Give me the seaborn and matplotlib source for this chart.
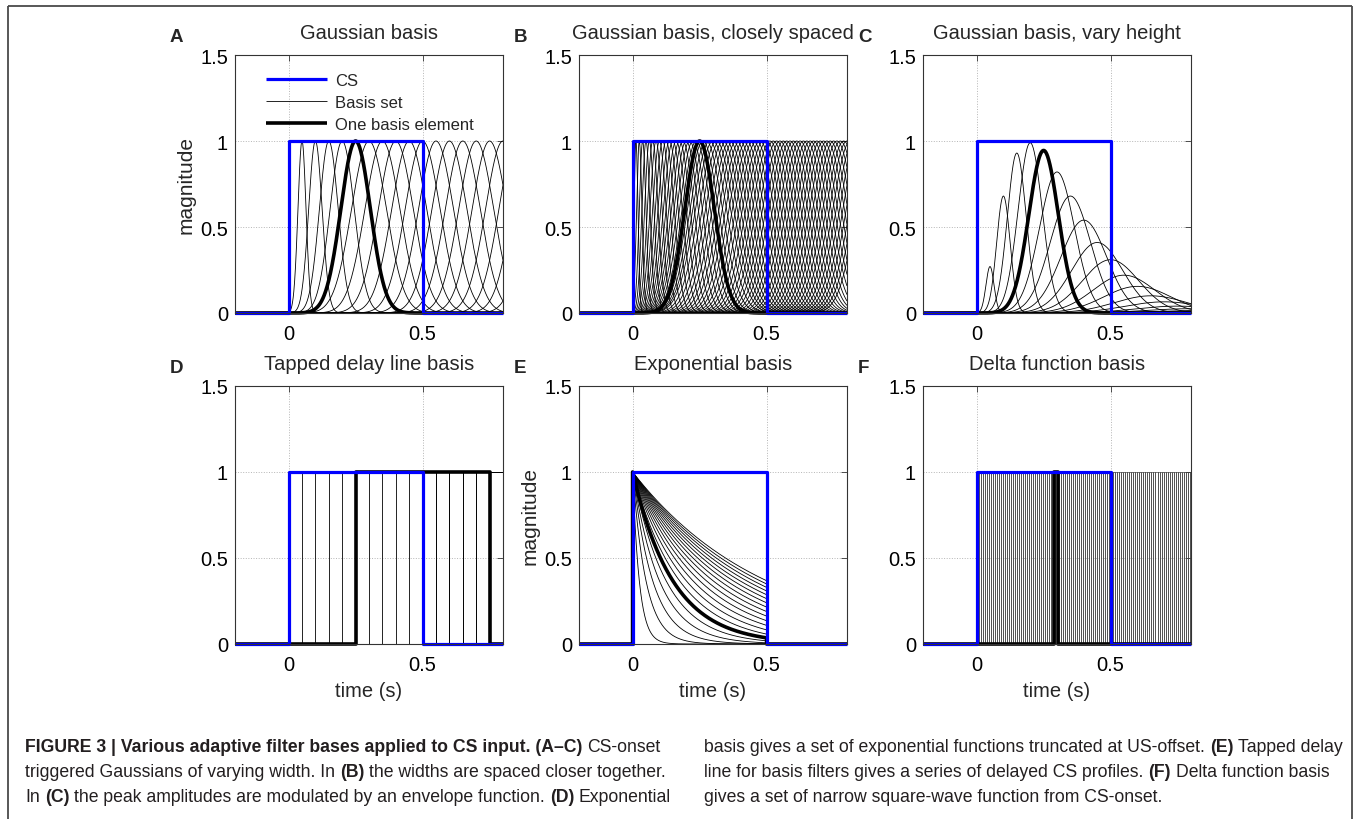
import numpy as np
import pandas as pd
import matplotlib
matplotlib.use("Agg")
import matplotlib.pyplot as plt
from matplotlib.lines import Line2D
from matplotlib import font_manager
import seaborn as sns

W, H = 1354, 820

# ---- time axis and conditioned stimulus -------------------------------
t_min, t_max = -0.2, 0.8
cs_onset, cs_offset = 0.0, 0.5

# ---- Gaussian widths: grow with centre (levelled off in A and B) ------
sigma_base, sigma_slope = 0.005, 0.20
sigma_cap_ab = 0.065

# ---- A: Gaussian basis -----------------------------------------------
gauss_centers = [0.05, 0.10, 0.15, 0.20, 0.25, 0.30, 0.35, 0.40, 0.45, 0.50,
                 0.55, 0.60, 0.65, 0.70, 0.75, 0.80, 0.85, 0.90, 0.95, 1.00]
gauss_highlight = 0.25

# ---- B: closely spaced Gaussians --------------------------------------
close_first, close_step, close_count = 0.0125, 0.0125, 72
close_highlight = 0.25

# ---- C: Gaussians with envelope-modulated heights ---------------------
vary_centers = [0.05, 0.10, 0.15, 0.20, 0.25, 0.30, 0.35, 0.40, 0.45,
                0.50, 0.55, 0.60, 0.65, 0.70, 0.75, 0.80, 0.85, 0.90]
vary_heights = [0.27, 0.68, 0.93, 0.99, 0.945, 0.82, 0.68, 0.54, 0.41,
                0.31, 0.22, 0.155, 0.10, 0.065, 0.04, 0.025, 0.015, 0.01]
vary_highlight = 0.25

# ---- D: tapped delay line (delayed copies of the CS) ------------------
tap_delays = [0.00, 0.05, 0.10, 0.15, 0.20, 0.25, 0.30, 0.35, 0.40,
              0.45, 0.50, 0.55, 0.60, 0.65, 0.70, 0.75, 0.80]
tap_length = 0.5
tap_highlight = 0.25

# ---- E: exponential basis truncated at CS offset ----------------------
exp_taus = [0.025, 0.050, 0.075, 0.100, 0.125, 0.150, 0.175, 0.200, 0.225, 0.250,
            0.275, 0.300, 0.325, 0.350, 0.375, 0.400, 0.425, 0.450, 0.475, 0.500]
exp_highlight = 0.150

# ---- F: delta function basis (narrow pulses) --------------------------
delta_first, delta_step, delta_count = 0.0, 0.0075, 107
delta_width = 0.0075
delta_highlight = 0.29
delta_highlight_width = 0.015

# ---- styling ----------------------------------------------------------
sns.set_theme(style="white")
plt.rcParams["font.family"] = ["Liberation Sans", "DejaVu Sans"]
plt.rcParams["lines.solid_capstyle"] = "butt"

BLUE = (0.0, 0.0, 1.0)
THIN, THICK, CS_LW = 0.6, 2.6, 2.3
FS = 14.5
grid_t = np.linspace(t_min, t_max, 2001)


def gaussian_frame(centers, heights=None, cap=np.inf):
    rows = []
    for i, c in enumerate(centers):
        h = 1.0 if heights is None else heights[i]
        s = min(sigma_base + sigma_slope * c, cap)
        y = h * np.exp(-0.5 * ((grid_t - c) / s) ** 2) * (grid_t >= 0)
        rows.append(pd.DataFrame({"t": grid_t, "y": y, "unit": i}))
    return pd.concat(rows, ignore_index=True)


def pulse_frame(starts, length):
    rows = []
    for i, a in enumerate(starts):
        b = a + length
        if b < t_max:
            x = [t_min, a, a, b, b, t_max]
            y = [0, 0, 1, 1, 0, 0]
        else:
            x = [t_min, a, a, t_max]
            y = [0, 0, 1, 1]
        rows.append(pd.DataFrame({"t": x, "y": y, "unit": i}))
    return pd.concat(rows, ignore_index=True)


def exp_frame(taus):
    tt = np.linspace(cs_onset, cs_offset, 400)
    rows = []
    for i, tau in enumerate(taus):
        x = np.concatenate([[t_min, cs_onset], tt, [cs_offset, t_max]])
        y = np.concatenate([[0, 0], np.exp(-(tt - cs_onset) / tau), [0, 0]])
        rows.append(pd.DataFrame({"t": x, "y": y, "unit": i}))
    return pd.concat(rows, ignore_index=True)


def cs_frame():
    return pd.DataFrame({"t": [t_min, cs_onset, cs_onset, cs_offset, cs_offset, t_max],
                         "y": [0, 0, 1, 1, 0, 0]})


def draw_panel(ax, basis, highlight, thin=THIN, thin_color="black"):
    sns.lineplot(data=basis, x="t", y="y", units="unit", estimator=None, sort=False,
                 color=thin_color, lw=thin, ax=ax, legend=False)
    sns.lineplot(data=highlight, x="t", y="y", estimator=None, sort=False,
                 color="black", lw=THICK, ax=ax, legend=False)
    sns.lineplot(data=cs_frame(), x="t", y="y", estimator=None, sort=False,
                 color=BLUE, lw=CS_LW, ax=ax, legend=False)
    for ln in ax.lines:
        ln.set_clip_on(False)


def style_axes(ax):
    ax.set_xlim(t_min, t_max)
    ax.set_ylim(0, 1.5)
    ax.set_xticks([0, 0.5])
    ax.set_xticklabels(["0", "0.5"])
    ax.set_yticks([0, 0.5, 1, 1.5])
    ax.set_yticklabels(["0", "0.5", "1", "1.5"])
    ax.grid(True, ls=":", lw=0.7, color="#b5b5b5")
    ax.set_axisbelow(True)
    ax.tick_params(direction="in", top=True, right=True, length=4, width=0.6,
                   labelsize=FS, color="#333333", labelcolor="black")
    ax.tick_params(axis="x", pad=8)
    ax.tick_params(axis="y", pad=5)
    for s in ax.spines.values():
        s.set_visible(True)
        s.set_color("#333333")
        s.set_linewidth(0.8)
    ax.set_xlabel("")
    ax.set_ylabel("")


fig = plt.figure(figsize=(W / 100, H / 100), dpi=100)
lefts = [235, 579, 923]
tops = [56, 387]
aw, ah = 268, 258
axes = []
for r in range(2):
    for c in range(3):
        axes.append(fig.add_axes([lefts[c] / W, 1 - (tops[r] + ah) / H, aw / W, ah / H]))

titles = ["Gaussian basis", "Gaussian basis, closely spaced", "Gaussian basis, vary height",
          "Tapped delay line basis", "Exponential basis", "Delta function basis"]
letters = ["A", "B", "C", "D", "E", "F"]

# A
draw_panel(axes[0], gaussian_frame(gauss_centers, cap=sigma_cap_ab),
           gaussian_frame([gauss_highlight], cap=sigma_cap_ab))
# B
close_centers = [round(close_first + k * close_step, 4) for k in range(close_count)]
draw_panel(axes[1], gaussian_frame(close_centers, cap=sigma_cap_ab),
           gaussian_frame([close_highlight], cap=sigma_cap_ab))
# C
hi = vary_centers.index(vary_highlight)
draw_panel(axes[2], gaussian_frame(vary_centers, vary_heights),
           gaussian_frame([vary_highlight], [vary_heights[hi]]))
# D
draw_panel(axes[3], pulse_frame(tap_delays, tap_length), pulse_frame([tap_highlight], tap_length))
# E
draw_panel(axes[4], exp_frame(exp_taus), exp_frame([exp_highlight]))
# F
delta_starts = [round(delta_first + k * delta_step, 4) for k in range(delta_count)]
draw_panel(axes[5], pulse_frame(delta_starts, delta_width),
           pulse_frame([delta_highlight], delta_highlight_width), thin=0.45, thin_color="#3a3a3a")

for i, ax in enumerate(axes):
    style_axes(ax)
    ax.set_title(titles[i], fontsize=FS, pad=12)
    r, c = divmod(i, 3)
    base = tops[r] - 14
    fig.text((lefts[c] - 65) / W, 1 - base / H, letters[i], fontsize=13.5,
             fontweight="bold", ha="left", va="baseline")
    if r == 1:
        ax.set_xlabel("time (s)", fontsize=FS, labelpad=5)

axes[0].set_ylabel("magnitude", fontsize=FS + 0.5, labelpad=3)
axes[4].set_ylabel("magnitude", fontsize=FS + 0.5, labelpad=3)

handles = [Line2D([], [], color=BLUE, lw=CS_LW),
           Line2D([], [], color="black", lw=THIN),
           Line2D([], [], color="black", lw=THICK)]
axes[0].legend(handles, ["CS", "Basis set", "One basis element"], loc="upper left",
               bbox_to_anchor=(0.115, 0.93), frameon=False, fontsize=12,
               handlelength=3.7, handletextpad=0.45, labelspacing=0.42,
               borderpad=0, borderaxespad=0)

# frame around the figure block
frame_kw = dict(color="#4a4a4a", lw=1.3, transform=fig.transFigure)
fig.add_artist(Line2D([8 / W, 8 / W], [0, 1 - 7 / H], **frame_kw))
fig.add_artist(Line2D([1352 / W, 1352 / W], [0, 1 - 7 / H], **frame_kw))
fig.add_artist(Line2D([8 / W, 1352 / W], [1 - 7 / H, 1 - 7 / H], **frame_kw))

# ---- caption -----------------------------------------------------------
names = {f.name for f in font_manager.fontManager.ttflist}
cap_family = "Liberation Sans Narrow" if "Liberation Sans Narrow" in names else "Liberation Sans"
renderer = fig.canvas.get_renderer()
CAP_COLOR = "#231f20"

left_lines = [
    [("FIGURE 3 | Various adaptive filter bases applied to CS input. (A–C)", "bold"), ("CS-onset", "normal")],
    [("triggered Gaussians of varying width. In", "normal"), ("(B)", "bold"),
     ("the widths are spaced closer together.", "normal")],
    [("In", "normal"), ("(C)", "bold"), ("the peak amplitudes are modulated by an envelope function.", "normal"),
     ("(D)", "bold"), ("Exponential", "normal")],
]
right_lines = [
    [("basis gives a set of exponential functions truncated at US-offset.", "normal"), ("(E)", "bold"),
     ("Tapped delay", "normal")],
    [("line for basis filters gives a series of delayed CS profiles.", "normal"), ("(F)", "bold"),
     ("Delta function basis", "normal")],
    [("gives a set of narrow square-wave function from CS-onset.", "normal")],
]


def measure_line(runs, size):
    total = 0.0
    space = size * 100 / 72 * 0.278
    for j, (txt, wt) in enumerate(runs):
        t = fig.text(0, 0, txt, fontsize=size, fontweight=wt, family=cap_family)
        total += t.get_window_extent(renderer).width
        t.remove()
        if j:
            total += space
    return total


def draw_line(x_px, y_px, runs, size):
    space = size * 100 / 72 * 0.278
    x = x_px
    for txt, wt in runs:
        t = fig.text(x / W, 1 - y_px / H, txt, fontsize=size, fontweight=wt, family=cap_family,
                     color=CAP_COLOR, ha="left", va="baseline")
        x += t.get_window_extent(renderer).width + space


base_size = 11.0
scale = 640 / measure_line(left_lines[1], base_size)
cap_size = base_size * scale
for k, runs in enumerate(left_lines):
    draw_line(25, 752 + 25 * k, runs, cap_size)
for k, runs in enumerate(right_lines):
    draw_line(704, 752 + 25 * k, runs, cap_size)

fig.savefig("out.png", dpi=100)
